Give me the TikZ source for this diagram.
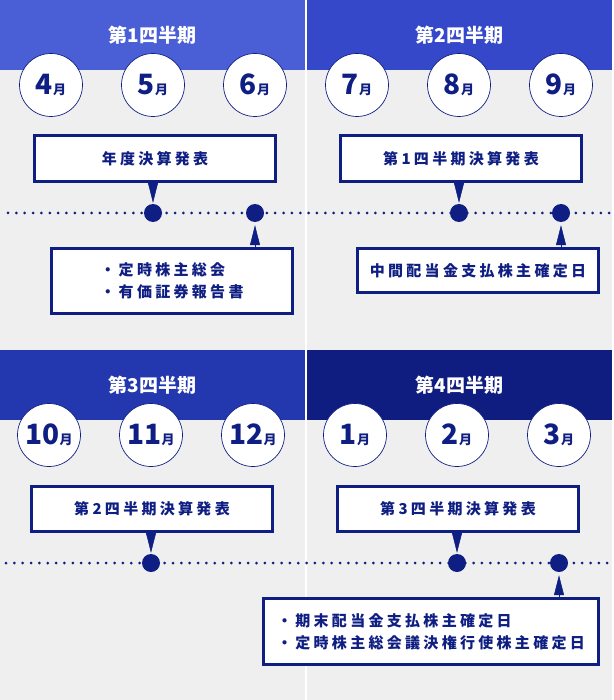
\documentclass[tikz,border=0pt]{standalone}
\usepackage{fontspec}
\setmainfont{Noto Sans CJK JP}
\newfontfamily\jpwide[LetterSpace=22]{Noto Sans CJK JP}
\usepackage{xcolor}
\usepackage{tikz}
\usetikzlibrary{positioning,arrows.meta}

\definecolor{bg}{HTML}{EFEFEF}
\definecolor{navy}{HTML}{0F1E82}
\definecolor{qone}{HTML}{4A5FD6}
\definecolor{qtwo}{HTML}{3448C9}
\definecolor{qthree}{HTML}{2338AE}
\definecolor{qfour}{HTML}{0F1C80}

\newcommand{\mlabel}[1]{{\fontsize{28}{28}\selectfont\bfseries #1}{\fontsize{13}{13}\selectfont\bfseries 月}}

\begin{document}
\begin{tikzpicture}[
  x=1pt, y=-1pt,
  hdr/.style={fill=#1, minimum width=305pt, minimum height=70pt, inner sep=0pt,
              anchor=north west, text=white, font=\fontsize{19}{19}\selectfont\bfseries},
  month/.style={circle, draw=navy, line width=0.7pt, fill=white, minimum size=63pt,
                inner sep=0pt, text=navy},
  note/.style={draw=navy, line width=3pt, fill=white, text=navy, inner sep=0pt,
               minimum width=241pt, align=left, font=\jpwide\fontsize{15}{22}\selectfont\bfseries},
  dot/.style={circle, fill=navy, minimum size=18pt, inner sep=0pt},
  timeline/.style={navy, line width=3pt, line cap=round, dash pattern=on 0pt off 8.35pt},
  ptr/.style={navy, line width=0.5pt, -{Triangle[width=10pt,length=20pt]}, shorten >=#1},
  ptr/.default=1pt]

% background and the white split
\fill[bg] (0,0) rectangle (612,700);
\fill[white] (305,0) rectangle (307,700);

% quarter headers
\node[hdr=qone] (h1) at (0,0) {第1四半期};
\node[hdr=qtwo] (h2) at (307,0) {第2四半期};
\node[hdr=qthree] (h3) at (0,350) {第3四半期};
\node[hdr=qfour] (h4) at (307,350) {第4四半期};

% months
\foreach \m/\x in {4/51,5/153,6/255,7/357,8/459,9/561}
  \node[month] (m\m) at (\x,85) {\mlabel{\m}};
\foreach \m/\x in {10/49,11/151,12/253,1/355,2/457,3/559}
  \node[month] (m\m) at (\x,435) {\mlabel{\m}};

% timelines
\coordinate (ta) at (8,213);
\coordinate (tb) at (612,213);
\coordinate (tc) at (6,563);
\coordinate (td) at (612,563);
\draw[timeline] (ta) -- (tb);
\draw[timeline] (tc) -- (td);

\node[dot] (d6) at (153,213) {};
\node[dot] (d7) at (255,213) {};
\node[dot] (d8) at (459,213) {};
\node[dot] (d9) at (561,213) {};
\node[dot] (d11) at (151,563) {};
\node[dot] (d2) at (457,563) {};
\node[dot] (d3) at (559,563) {};

% upper half notes
\node[note, minimum height=46pt] (fy) at (155,158.5) {年度決算発表};
\node[note, minimum height=65pt] (agm) at (172,281) {・定時株主総会\\・有価証券報告書};
\node[note, minimum height=46pt] (q1r) at (461,158.5) {第1四半期決算発表};
\node[note, minimum height=44pt] (mid) at (478,270.5) {中間配当金支払株主確定日};
\draw[ptr] (fy.south -| d6) -- (d6.north);
\draw[ptr=3pt] (agm.north -| d7) -- (d7.south);
\draw[ptr] (q1r.south -| d8) -- (d8.north);
\draw[ptr=3pt] (mid.north -| d9) -- (d9.south);

% lower half notes
\node[note, minimum height=45pt] (q2r) at (152,509) {第2四半期決算発表};
\node[note, minimum height=45pt] (q3r) at (458,509) {第3四半期決算発表};
\node[note, minimum width=335pt, minimum height=66pt] (ye) at (431,631.5)
  {・期末配当金支払株主確定日\\・定時株主総会議決権行使株主確定日};
\draw[ptr] (q2r.south -| d11) -- (d11.north);
\draw[ptr] (q3r.south -| d2) -- (d2.north);
\draw[ptr=3pt] (ye.north -| d3) -- (d3.south);
\end{tikzpicture}
\end{document}
